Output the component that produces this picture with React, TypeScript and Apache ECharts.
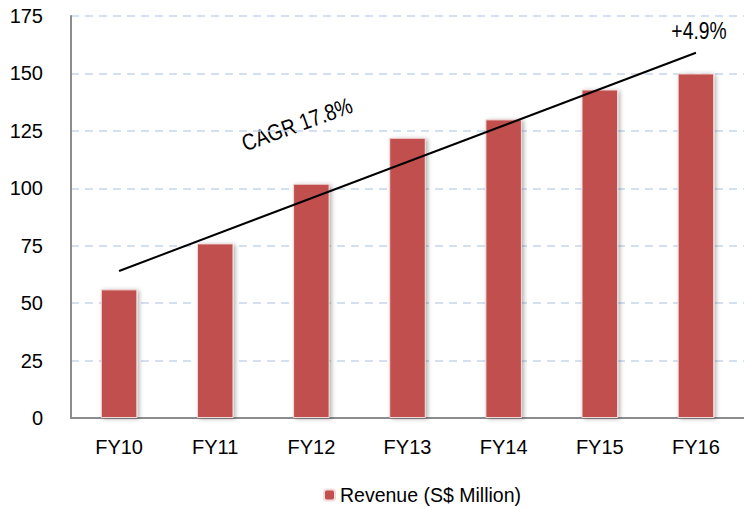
import React, { useEffect, useRef } from "react";
import * as echarts from "echarts";

const categories = ["FY10", "FY11", "FY12", "FY13", "FY14", "FY15", "FY16"];
const revenue = [56, 76, 102, 122, 130, 143, 150];
const trendLine = [64, "-", "-", "-", "-", "-", 159];
const seriesName = "Revenue (S$ Million)";
const cagrLabel = "CAGR 17.8%";
const growthLabel = "+4.9%";

const FONT = "'Liberation Sans', Arial, sans-serif";
const FS = 20;

export default function App() {
  const ref = useRef<HTMLDivElement>(null);
  useEffect(() => {
    if (!ref.current) return;
    const chart = echarts.init(ref.current, null, { renderer: "svg" });
    chart.setOption({
      animation: false,
      textStyle: { fontFamily: FONT },
      grid: { left: 71, top: 16, bottom: 89, width: 676 },
      legend: {
        data: [seriesName],
        top: 480,
        left: 318,
        itemWidth: 11,
        itemHeight: 11,
        itemGap: 6,
        textStyle: { fontSize: 19.5, color: "#000", fontFamily: FONT },
      },
      xAxis: {
        type: "category",
        data: categories,
        axisLine: { lineStyle: { color: "#8c8c8c", width: 2 } },
        axisTick: { show: false },
        axisLabel: { fontSize: FS, color: "#000", margin: 19, fontFamily: FONT },
      },
      yAxis: {
        type: "value",
        min: 0,
        max: 175,
        interval: 25,
        axisLine: { show: true, lineStyle: { color: "#8c8c8c", width: 2 } },
        axisTick: { show: false },
        axisLabel: { fontSize: FS, color: "#000", margin: 28, fontFamily: FONT },
        splitLine: { lineStyle: { color: "#c6d6ec", type: [8, 6], width: 1.5 } },
      },
      series: [
        {
          name: seriesName,
          type: "bar",
          data: revenue,
          barWidth: "38%",
          itemStyle: {
            color: "#c0504d",
            borderColor: "#f2dcdb",
            borderWidth: 1,
            shadowColor: "rgba(0,0,0,0.3)",
            shadowBlur: 4,
            shadowOffsetX: 2,
            shadowOffsetY: 1,
          },
        },
        {
          name: "trend",
          type: "line",
          data: trendLine,
          connectNulls: true,
          symbol: "none",
          lineStyle: { color: "#000", width: 2 },
          z: 5,
        },
      ],
      graphic: [
        {
          type: "text",
          x: 297,
          y: 124,
          rotation: (20 * Math.PI) / 180,
          scaleX: 0.84,
          style: {
            text: cagrLabel,
            fontSize: 23,
            fontFamily: FONT,
            fill: "#000",
            align: "center",
            verticalAlign: "middle",
          },
        },
        {
          type: "text",
          x: 699,
          y: 31,
          scaleX: 0.84,
          style: {
            text: growthLabel,
            fontSize: 23,
            fontFamily: FONT,
            fill: "#000",
            align: "center",
            verticalAlign: "middle",
          },
        },
      ],
    });
    return () => chart.dispose();
  }, []);
  return <div ref={ref} style={{ width: 744, height: 507, position: "absolute", left: 0, top: 0 }} />;
}
